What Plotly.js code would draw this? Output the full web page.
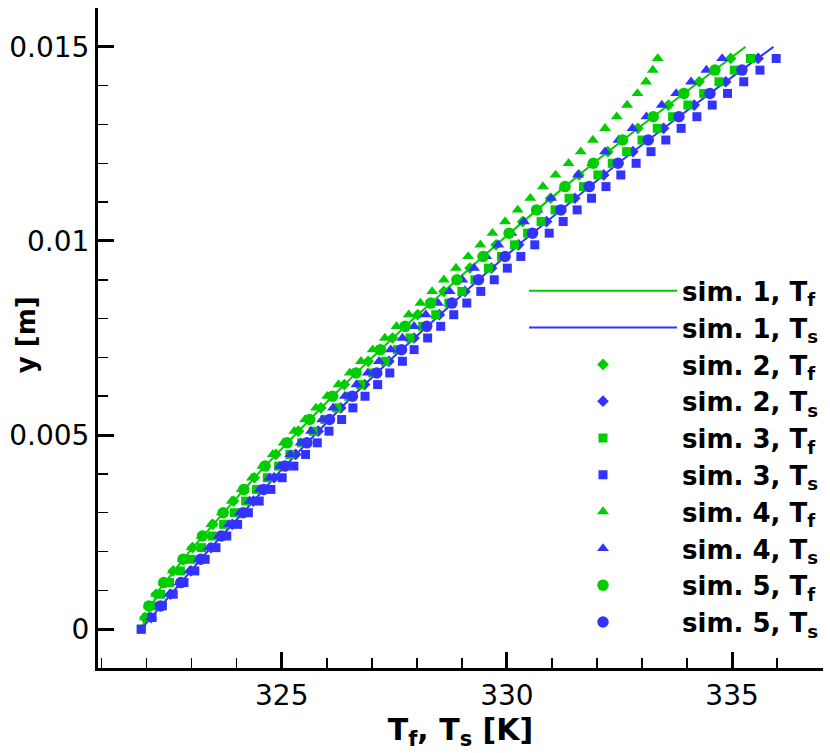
<!DOCTYPE html>
<html>
<head>
<meta charset="utf-8">
<script src="https://cdn.plot.ly/plotly-3.0.1.min.js"></script>
<style>
  html, body { margin: 0; padding: 0; background: #fff; }
  #chart { width: 830px; height: 753px; }
</style>
</head>
<body>
<div id="chart"></div>
<script>
// sim. 1 (continuous profiles)
const yLine = [0, 0.001, 0.002, 0.003, 0.004, 0.005, 0.006, 0.007, 0.008,
  0.009, 0.010, 0.011, 0.012, 0.013, 0.014, 0.015];
const sim1Tf = [321.88, 322.27, 322.95, 323.70, 324.47, 325.29, 326.13, 327.01,
  327.93, 328.89, 329.86, 330.87, 331.92, 333.02, 334.16, 335.30];
const sim1Ts = [321.88, 322.61, 323.35, 324.14, 324.91, 325.73, 326.57, 327.47,
  328.41, 329.37, 330.36, 331.41, 332.47, 333.59, 334.74, 335.92];

// sim. 2 (diamonds)
const ySim2 = [0.0003, 0.0009, 0.0015, 0.0021, 0.0027, 0.0033, 0.0039, 0.0045,
  0.0051, 0.0057, 0.0063, 0.0069, 0.0075, 0.0081, 0.0087, 0.0093, 0.0099,
  0.0105, 0.0111, 0.0117, 0.0123, 0.0129, 0.0135, 0.0141, 0.0147];
const sim2Tf = [321.96, 322.21, 322.59, 323.02, 323.47, 323.93, 324.39, 324.87,
  325.37, 325.87, 326.39, 326.92, 327.46, 328.02, 328.60, 329.18, 329.76,
  330.35, 330.97, 331.60, 332.24, 332.91, 333.59, 334.27, 334.97];
const sim2Ts = [322.10, 322.53, 322.98, 323.43, 323.90, 324.37, 324.83, 325.31,
  325.81, 326.31, 326.84, 327.38, 327.94, 328.50, 329.07, 329.66, 330.26,
  330.88, 331.51, 332.15, 332.80, 333.48, 334.16, 334.86, 335.58];

// sim. 3 (squares)
const ySim3 = [0, 0.0003, 0.0006, 0.0009, 0.0012, 0.0015, 0.0018, 0.0021,
  0.0024, 0.0027, 0.0030, 0.0033, 0.0036, 0.0039, 0.0042, 0.0045, 0.0048,
  0.0051, 0.0054, 0.0057, 0.0060, 0.0063, 0.0066, 0.0069, 0.0072, 0.0075,
  0.0078, 0.0081, 0.0084, 0.0087, 0.0090, 0.0093, 0.0096, 0.0099, 0.0102,
  0.0105, 0.0108, 0.0111, 0.0114, 0.0117, 0.0120, 0.0123, 0.0126, 0.0129,
  0.0132, 0.0135, 0.0138, 0.0141, 0.0144, 0.0147];
const sim3Tf = [321.88, 322.00, 322.12, 322.31, 322.51, 322.75, 322.99, 323.22,
  323.46, 323.71, 323.95, 324.20, 324.44, 324.68, 324.93, 325.18, 325.44,
  325.70, 325.96, 326.22, 326.49, 326.75, 327.02, 327.30, 327.57, 327.85,
  328.13, 328.42, 328.71, 329.00, 329.29, 329.59, 329.88, 330.17, 330.46,
  330.76, 331.07, 331.38, 331.70, 332.02, 332.34, 332.66, 333.00, 333.34,
  333.68, 334.02, 334.37, 334.71, 335.05, 335.41];
const sim3Ts = [321.88, 322.12, 322.35, 322.59, 322.83, 323.07, 323.30, 323.54,
  323.78, 324.02, 324.26, 324.50, 324.76, 325.01, 325.27, 325.53, 325.79,
  326.05, 326.33, 326.58, 326.85, 327.13, 327.40, 327.68, 327.94, 328.24,
  328.53, 328.82, 329.11, 329.42, 329.72, 330.01, 330.31, 330.62, 330.94,
  331.25, 331.56, 331.88, 332.20, 332.53, 332.87, 333.20, 333.53, 333.87,
  334.22, 334.56, 334.90, 335.26, 335.62, 335.98];

// sim. 4 (triangles)
const ySim4 = [0.0003, 0.0006, 0.0009, 0.0012, 0.0015, 0.0018, 0.0021, 0.0024,
  0.0027, 0.0030, 0.0033, 0.0036, 0.0039, 0.0042, 0.0045, 0.0048, 0.0051,
  0.0054, 0.0057, 0.0060, 0.0063, 0.0066, 0.0069, 0.0072, 0.0075, 0.0078,
  0.0081, 0.0084, 0.0087, 0.0090, 0.0093, 0.0096, 0.0099, 0.0102, 0.0105,
  0.0108, 0.0111, 0.0114, 0.0117, 0.0120, 0.0123, 0.0126, 0.0129, 0.0132,
  0.0135, 0.0138, 0.0141, 0.0144, 0.0147];
const sim4Tf = [321.96, 322.05, 322.21, 322.38, 322.58, 322.80, 323.00, 323.22,
  323.44, 323.67, 323.89, 324.11, 324.34, 324.57, 324.80, 325.04, 325.28,
  325.52, 325.76, 326.01, 326.26, 326.51, 326.76, 327.02, 327.29, 327.55,
  327.82, 328.08, 328.34, 328.60, 328.87, 329.14, 329.41, 329.68, 329.96,
  330.24, 330.52, 330.80, 331.08, 331.37, 331.64, 331.91, 332.18, 332.44,
  332.67, 332.90, 333.09, 333.24, 333.35];
const sim4Ts = [322.10, 322.30, 322.51, 322.73, 322.95, 323.16, 323.38, 323.60,
  323.83, 324.07, 324.29, 324.51, 324.73, 324.96, 325.19, 325.42, 325.65,
  325.90, 326.14, 326.40, 326.66, 326.91, 327.16, 327.42, 327.68, 327.94,
  328.20, 328.47, 328.73, 329.01, 329.27, 329.54, 329.81, 330.10, 330.38,
  330.68, 330.98, 331.28, 331.58, 331.90, 332.18, 332.48, 332.79, 333.10,
  333.44, 333.76, 334.09, 334.43, 334.78];

// sim. 5 (circles)
const ySim5 = [0.0006, 0.0012, 0.0018, 0.0024, 0.0030, 0.0036, 0.0042, 0.0048,
  0.0054, 0.0060, 0.0066, 0.0072, 0.0078, 0.0084, 0.0090, 0.0096, 0.0102,
  0.0108, 0.0114, 0.0120, 0.0126, 0.0132, 0.0138, 0.0144];
const sim5Tf = [322.05, 322.38, 322.81, 323.24, 323.70, 324.16, 324.63, 325.12,
  325.62, 326.13, 326.65, 327.19, 327.74, 328.31, 328.89, 329.47, 330.05,
  330.66, 331.29, 331.92, 332.57, 333.25, 333.93, 334.62];
const sim5Ts = [322.31, 322.76, 323.20, 323.66, 324.14, 324.60, 325.07, 325.56,
  326.06, 326.57, 327.11, 327.66, 328.22, 328.78, 329.37, 329.96, 330.57,
  331.20, 331.83, 332.47, 333.14, 333.82, 334.51, 335.22];

const GREEN = '#00cc00';
const BLUE = '#3333ff';
const FONT = '"DejaVu Sans", "Liberation Sans", Arial, sans-serif';

function label(sim, sub) {
  return '<b>sim. ' + sim + ', T<sub>' + sub + '</sub></b>';
}

function markers(x, y, name, color, symbol, size) {
  return {
    x, y, name, type: 'scatter', mode: 'markers',
    marker: {color, symbol, size, line: {width: 0}}
  };
}

const traces = [
  {x: sim1Tf, y: yLine, name: label(1, 'f'), type: 'scatter', mode: 'lines',
    line: {color: GREEN, width: 2}},
  {x: sim1Ts, y: yLine, name: label(1, 's'), type: 'scatter', mode: 'lines',
    line: {color: BLUE, width: 2}},
  markers(sim2Tf, ySim2, label(2, 'f'), GREEN, 'diamond', 9),
  markers(sim2Ts, ySim2, label(2, 's'), BLUE, 'diamond', 9),
  markers(sim3Tf, ySim3, label(3, 'f'), GREEN, 'square', 9),
  markers(sim3Ts, ySim3, label(3, 's'), BLUE, 'square', 9),
  markers(sim4Tf, ySim4, label(4, 'f'), GREEN, 'triangle-up', 10.5),
  markers(sim4Ts, ySim4, label(4, 's'), BLUE, 'triangle-up', 10.5),
  markers(sim5Tf, ySim5, label(5, 'f'), GREEN, 'circle', 11.5),
  markers(sim5Ts, ySim5, label(5, 's'), BLUE, 'circle', 11.5)
];

const axisCommon = {
  showgrid: false,
  zeroline: false,
  showline: true,
  linecolor: '#000',
  linewidth: 3,
  ticks: 'inside',
  ticklen: 16,
  tickwidth: 3,
  tickcolor: '#000',
  tickfont: {family: FONT, size: 28, color: '#000'},
  mirror: false
};

const layout = {
  width: 830,
  height: 753,
  margin: {l: 98, r: 7, t: 8, b: 85},
  paper_bgcolor: '#fff',
  plot_bgcolor: '#fff',
  font: {family: FONT, color: '#000'},
  showlegend: true,
  xaxis: Object.assign({}, axisCommon, {
    range: [320.92, 337.02],
    tickvals: [325, 330, 335],
    minor: {dtick: 1, tick0: 321, ticks: 'inside', ticklen: 10, tickwidth: 1.5, tickcolor: '#000'},
    title: {text: '<b>T<sub>f</sub>, T<sub>s</sub> [K]</b>', font: {family: FONT, size: 30}, standoff: 2}
  }),
  yaxis: Object.assign({}, axisCommon, {
    range: [-0.001, 0.016],
    tickvals: [0, 0.005, 0.01, 0.015],
    ticktext: ['0', '0.005', '0.01', '0.015'],
    minor: {dtick: 0.001, tick0: 0, ticks: 'inside', ticklen: 10, tickwidth: 1.5, tickcolor: '#000'}
  }),
  annotations: [{
    text: '<b>y [m]</b>',
    textangle: -90,
    xref: 'paper', yref: 'paper',
    x: -0.1, y: 0.505,
    xanchor: 'center', yanchor: 'middle',
    showarrow: false,
    font: {family: FONT, size: 26, color: '#000'}
  }],
  legend: {
    x: 1.0,
    xanchor: 'right',
    y: 0.607,
    yanchor: 'top',
    bgcolor: 'rgba(0,0,0,0)',
    borderwidth: 0,
    itemwidth: 148,
    font: {family: FONT, size: 26, color: '#000'},
    traceorder: 'normal'
  }
};

Plotly.newPlot('chart', traces, layout, {displayModeBar: false, staticPlot: true});
</script>
</body>
</html>
